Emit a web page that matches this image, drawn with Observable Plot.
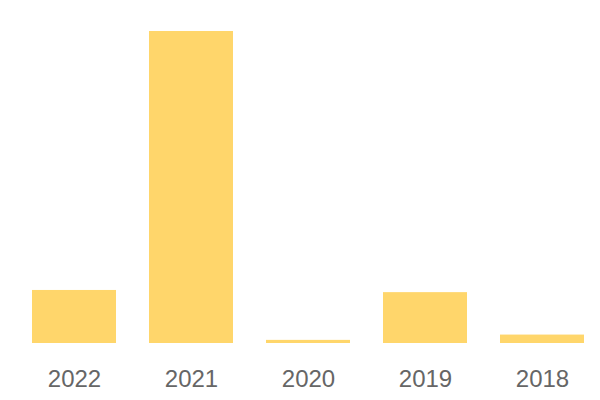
<!DOCTYPE html>
<html>
<head>
<meta charset="utf-8">
<script src="https://cdn.jsdelivr.net/npm/d3@7"></script>
<script src="https://cdn.jsdelivr.net/npm/@observablehq/plot@0.6"></script>
<style>
  html, body { margin: 0; padding: 0; background: #fff; }
</style>
</head>
<body>
<div id="chart"></div>
<script>
const years = ["2022", "2021", "2020", "2019", "2018"];
const values = [17.0, 100, 1.0, 16.3, 2.7];

const data = years.map((y, i) => ({year: y, value: values[i]}));

const chart = Plot.plot({
  width: 600,
  height: 400,
  marginTop: 31,
  marginBottom: 57,
  marginLeft: 20,
  marginRight: 4,
  style: {fontFamily: "'Liberation Sans', Arial, sans-serif", background: "#fff"},
  x: {domain: years, paddingInner: 0.28, paddingOuter: 0.1, label: null},
  y: {domain: [0, 100], axis: null},
  marks: [
    Plot.barY(data, {x: "year", y: "value", fill: "#ffd66b"}),
    Plot.axisX({tickSize: 0, tickPadding: 26, fontSize: 24, color: "#666", label: null})
  ]
});
document.getElementById("chart").appendChild(chart);
</script>
</body>
</html>
